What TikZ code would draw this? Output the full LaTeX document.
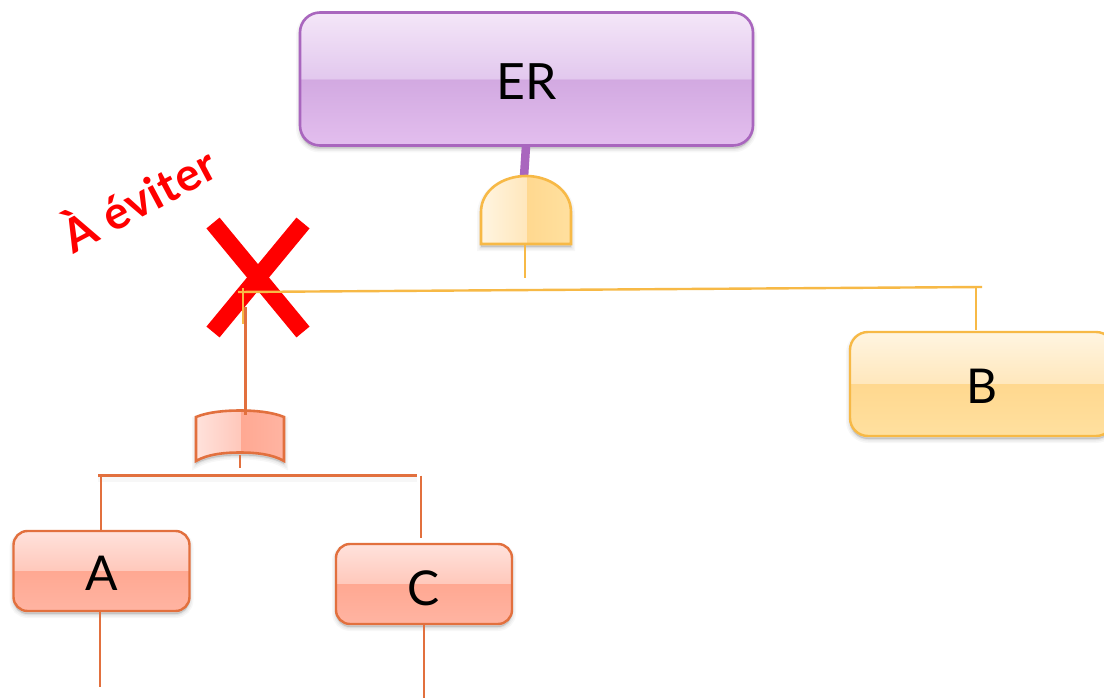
\documentclass[tikz,border=0pt]{standalone}
\usepackage{fontspec}
\setmainfont{Lato}
\definecolor{purpT}{HTML}{F4E6F8}\definecolor{purpM}{HTML}{E2C8EE}\definecolor{purpC}{HTML}{D2A9E1}\definecolor{purpB}{HTML}{E3BEEE}\definecolor{purpL}{HTML}{A966BE}
\definecolor{orT}{HTML}{FFF5E1}\definecolor{orM}{HTML}{FFE7BC}\definecolor{orC}{HTML}{FFD88F}\definecolor{orB}{HTML}{FFE09F}\definecolor{orL}{HTML}{F7B946}
\definecolor{redT}{HTML}{FFE2DC}\definecolor{redM}{HTML}{FFC8BB}\definecolor{redC}{HTML}{FFA892}\definecolor{redB}{HTML}{FFB4A2}\definecolor{redL}{HTML}{E2703E}
\pgfdeclareverticalshading{purpbox}{100bp}{color(0bp)=(purpB);color(25bp)=(purpB);color(50bp)=(purpC);color(50.01bp)=(purpM);color(75bp)=(purpT);color(100bp)=(purpT)}
\pgfdeclareverticalshading{orbox}{100bp}{color(0bp)=(orB);color(25bp)=(orB);color(50bp)=(orC);color(50.01bp)=(orM);color(75bp)=(orT);color(100bp)=(orT)}
\pgfdeclareverticalshading{redbox}{100bp}{color(0bp)=(redB);color(25bp)=(redB);color(50bp)=(redC);color(50.01bp)=(redM);color(75bp)=(redT);color(100bp)=(redT)}
\pgfdeclarehorizontalshading{orgate}{100bp}{color(0bp)=(orT);color(25bp)=(orT);color(50bp)=(orM);color(50.01bp)=(orC);color(75bp)=(orB);color(100bp)=(orB)}
\pgfdeclarehorizontalshading{redgate}{100bp}{color(0bp)=(redT);color(25bp)=(redT);color(50bp)=(redM);color(50.01bp)=(redC);color(75bp)=(redB);color(100bp)=(redB)}
\tikzset{
  softshadow/.style={
    preaction={draw=black,fill=black,opacity=.03,line width=8pt,transform canvas={yshift=-3pt}},
    preaction={draw=black,fill=black,opacity=.04,line width=5pt,transform canvas={yshift=-3pt}},
    preaction={draw=black,fill=black,opacity=.05,line width=2pt,transform canvas={yshift=-3pt}}},
  box/.style={softshadow,rounded corners=#1,inner sep=0pt,font=\fontsize{48}{50}\selectfont,text=black,text depth=2pt},
  purplebox/.style={box=20pt,draw=purpL,line width=2.6pt,shading=purpbox},
  orangebox/.style={box=18pt,draw=orL,line width=2.4pt,shading=orbox},
  salmonbox/.style={box=14pt,draw=redL,line width=2.4pt,shading=redbox},
  orline/.style={draw=orL,line width=2.4pt},
  redline/.style={draw=redL,line width=2.6pt},
  cross/.style={draw=red,line width=17pt},
}
\begin{document}
\begin{tikzpicture}[x=1pt,y=-1pt]
\useasboundingbox (0,0) rectangle (1104,698);
\clip (0,0) rectangle (1104,698);
\fill[white] (0,0) rectangle (1104,698);
% free ends of connectors
\coordinate (erfoot) at (526,146);
\coordinate (andtop) at (524,177);
\coordinate (andfoot) at (525,244);
\coordinate (andstem) at (525,278);
\coordinate (barL) at (238,292);
\coordinate (barR) at (982,287);
\coordinate (dropLtop) at (243,288);
\coordinate (dropLbot) at (243,324);
\coordinate (dropRtop) at (976,288);
\coordinate (bTop) at (976,330);
\coordinate (ortop) at (245.5,307);
\coordinate (orin) at (245.5,415);
\coordinate (orfoot) at (240,455);
\coordinate (orstem) at (240,468);
\coordinate (busL) at (98,475.5);
\coordinate (busR) at (417,475.5);
\coordinate (aDropT) at (101,475.5);
\coordinate (aTop) at (101,531);
\coordinate (cDropT) at (421,475.5);
\coordinate (cDropB) at (421,538);
\coordinate (aFoot) at (100,611);
\coordinate (aEnd) at (100,687);
\coordinate (cFoot) at (424,625);
\coordinate (cEnd) at (424,698);
% cross marks
\coordinate (x1) at (213,223);
\coordinate (x2) at (303,332);
\coordinate (x3) at (303,223);
\coordinate (x4) at (213,332);
\draw[cross] (x1) -- (x2);
\draw[cross] (x3) -- (x4);
\node[rotate=28,anchor=base,inner sep=0pt,text=red,font=\fontsize{46}{50}\selectfont\bfseries\addfontfeature{LetterSpace=2}] (warn) at (147,215) {À éviter};
% boxes
\node[purplebox,minimum width=453pt,minimum height=133pt,text height=44pt,font=\fontsize{50}{52}\selectfont] (er) at (526.5,79) {ER};
\node[orangebox,minimum width=264pt,minimum height=104pt,text height=40pt] (b) at (982,384) {B};
\node[salmonbox,minimum width=176pt,minimum height=80pt,text height=40pt] (a) at (101.5,571) {A};
\node[salmonbox,minimum width=176pt,minimum height=80pt,text height=44pt] (c) at (424,584) {C};
% connector ER to AND gate
\draw[purpL,line width=8.5pt] (erfoot) -- (andtop);
% AND gate
\path[softshadow,draw=orL,line width=2.6pt,shading=orgate]
  (481,244) -- (481,212) .. controls (481,190) and (503,176) .. (526,176)
  .. controls (549,176) and (571,190) .. (571,212) -- (571,244) -- cycle;
\draw[orline] (andfoot) -- (andstem);
\draw[orline] (barL) -- (barR);
\draw[orline] (dropLtop) -- (dropLbot);
\draw[orline] (dropRtop) -- (bTop);
% OR gate
\path[softshadow,draw=redL,line width=2.6pt,shading=redgate]
  (196,461) -- (196,417) .. controls (208,412) and (225,410.5) .. (240,410.5)
  .. controls (255,410.5) and (272,412) .. (284,417) -- (284,461)
  .. controls (272,454) and (255,452.5) .. (240,452.5)
  .. controls (225,452.5) and (208,454) .. (196,461) -- cycle;
\draw[redline] (ortop) -- (orin);
\draw[redline] (orfoot) -- (orstem);
\draw[redline,preaction={draw=black,opacity=.03,line width=6pt,transform canvas={yshift=-3pt}}] (busL) -- (busR);
\draw[redline] (aDropT) -- (aTop);
\draw[redline] (cDropT) -- (cDropB);
\draw[redline] (aFoot) -- (aEnd);
\draw[redline] (cFoot) -- (cEnd);
\end{tikzpicture}
\end{document}
